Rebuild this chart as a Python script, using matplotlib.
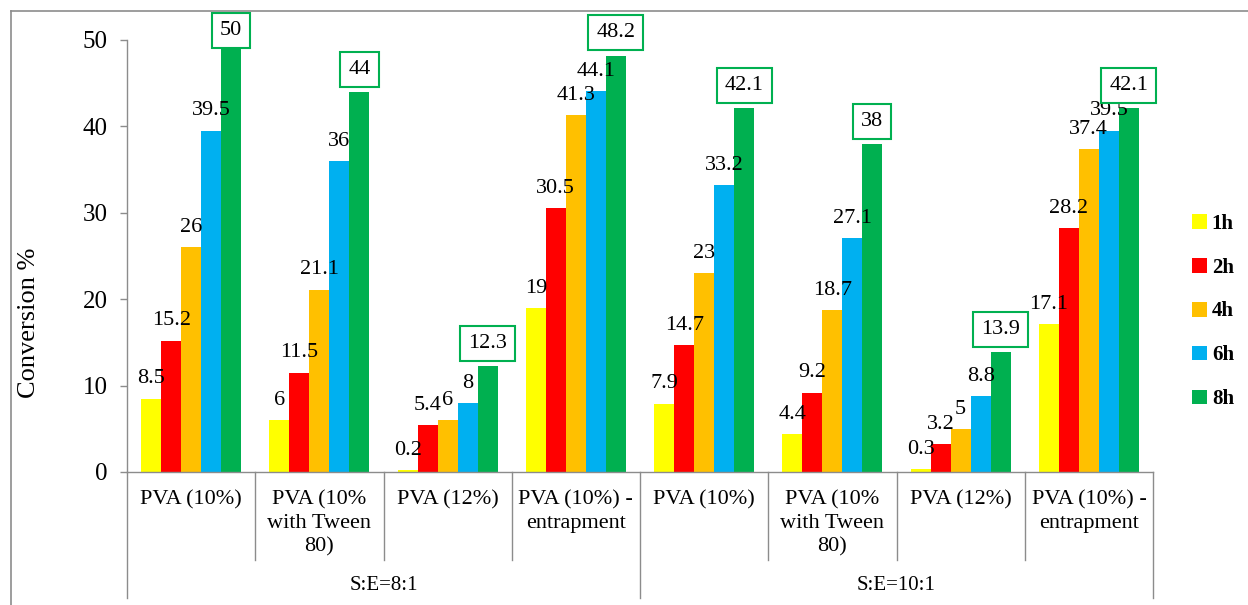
import matplotlib
matplotlib.use("Agg")
import matplotlib.pyplot as plt
from matplotlib.lines import Line2D
import numpy as np

plt.rcParams['font.family'] = ['Liberation Serif', 'DejaVu Serif']

# Data
categories = ["PVA (10%)", "PVA (10%\nwith Tween\n80)", "PVA (12%)", "PVA (10%) -\nentrapment",
              "PVA (10%)", "PVA (10%\nwith Tween\n80)", "PVA (12%)", "PVA (10%) -\nentrapment"]
groups = ["S:E=8:1", "S:E=10:1"]
series_names = ["1h", "2h", "4h", "6h", "8h"]
h1 = [8.5, 6, 0.2, 19, 7.9, 4.4, 0.3, 17.1]
h2 = [15.2, 11.5, 5.4, 30.5, 14.7, 9.2, 3.2, 28.2]
h4 = [26, 21.1, 6, 41.3, 23, 18.7, 5, 37.4]
h6 = [39.5, 36, 8, 44.1, 33.2, 27.1, 8.8, 39.5]
h8 = [50, 44, 12.3, 48.2, 42.1, 38, 13.9, 42.1]
series = [h1, h2, h4, h6, h8]
colors = ["#FFFF00", "#FF0000", "#FFC000", "#00B0F0", "#00B050"]

W, H = 1248, 605
fig = plt.figure(figsize=(W / 100, H / 100), dpi=100)
ax = fig.add_axes([127 / W, 1 - 472 / H, 1026 / W, 432 / H])

axis_gray = "#8C8C8C"
n_cat = len(categories)
n_ser = len(series)
group_w = 0.78
bar_w = group_w / n_ser
x = np.arange(n_cat)

for j, (vals, col, name) in enumerate(zip(series, colors, series_names)):
    xs = x + 0.5 - group_w / 2 + bar_w / 2 + j * bar_w
    ax.bar(xs, vals, width=bar_w, color=col, label=name, linewidth=0)
    for xi, v in zip(xs, vals):
        if j == n_ser - 1:
            # last series gets boxed labels, kept inside the chart frame
            ax.annotate(f"{v:g}", xy=(xi, min(v, 48.5)), xytext=(0, 13),
                        textcoords="offset points", ha="center", va="baseline",
                        fontsize=16, annotation_clip=False,
                        bbox=dict(boxstyle="square,pad=0.36", fc="white",
                                  ec="#00B050", lw=1.5))
        else:
            ax.annotate(f"{v:g}", xy=(xi, v), xytext=(0, 11),
                        textcoords="offset points", ha="center", va="baseline",
                        fontsize=16, annotation_clip=False)

ax.set_xlim(0, n_cat)
ax.set_ylim(0, 50)
ax.set_yticks(np.arange(0, 51, 10))
ax.tick_params(axis="y", length=5, width=1, color=axis_gray, pad=9, labelsize=18)
ax.set_xticks([])
for s in ["top", "right"]:
    ax.spines[s].set_visible(False)
for s in ["left", "bottom"]:
    ax.spines[s].set_color(axis_gray)
    ax.spines[s].set_linewidth(1)

ax.set_ylabel("Conversion %", fontsize=19)
ax.yaxis.set_label_coords(-(127 - 40) / 1026, (472 - 323) / 432)

# Two-level category axis
tr = ax.get_xaxis_transform()
for i, lab in enumerate(categories):
    ax.text(i + 0.5, -18 / 432, lab, transform=tr, ha="center", va="top",
            fontsize=16, linespacing=1.33)
for b in range(n_cat + 1):
    y_end = -126 / 432 if b % 4 == 0 else -88 / 432
    ax.add_line(Line2D([b, b], [0, y_end], transform=tr, color=axis_gray,
                       lw=1, clip_on=False))
for g, lab in enumerate(groups):
    ax.text(g * 4 + 2, -(585 - 472) / 432, lab, transform=tr, ha="center",
            va="center", fontsize=15)

# Legend
leg = fig.legend(loc="center left", bbox_to_anchor=(1192 / W, 1 - 311.5 / H),
                 frameon=False, borderpad=0, borderaxespad=0,
                 handlelength=0.7, handleheight=0.7, handletextpad=0.25,
                 labelspacing=1.15, prop=dict(weight="bold", size=15))

# Chart frame
fig.add_artist(Line2D([11 / W, 11 / W], [0, 1 - 11 / H], color="#8C8C8C", lw=1.2))
fig.add_artist(Line2D([11 / W, 1], [1 - 11 / H, 1 - 11 / H], color="#8C8C8C", lw=1.2))

fig.savefig("out.png", dpi=100)
